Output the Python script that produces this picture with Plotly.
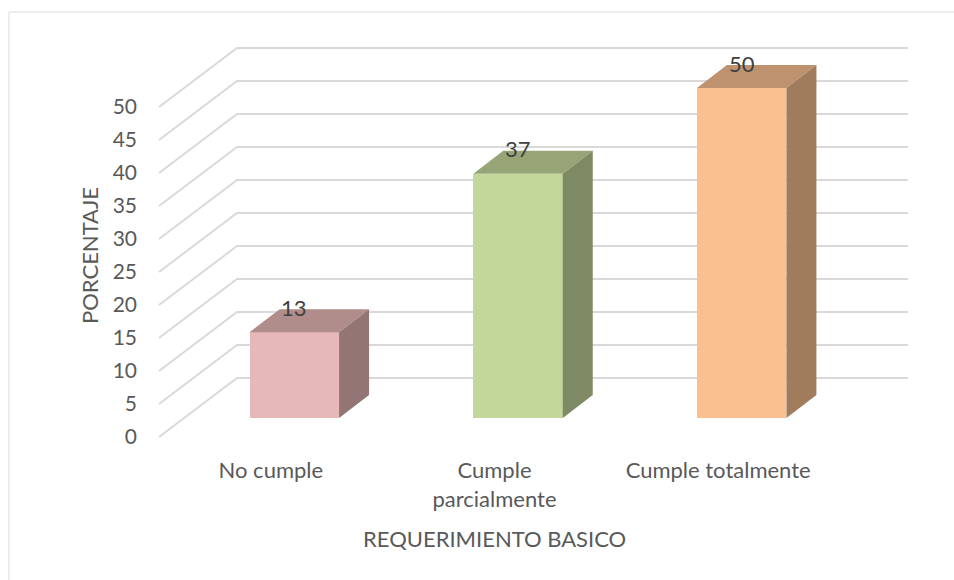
import plotly.graph_objects as go

# --- data -------------------------------------------------------------
categorias = ["No cumple", "Cumple parcialmente", "Cumple totalmente"]
etiquetas_x = ["No cumple", "Cumple<br>parcialmente", "Cumple totalmente"]
porcentajes = [13, 37, 50]
ticks_y = [0, 5, 10, 15, 20, 25, 30, 35, 40, 45, 50]

colores_frente = ["#E6B9B8", "#C4D79B", "#FAC090"]
colores_tapa = ["#B08D8A", "#96A476", "#BF926F"]
colores_lado = ["#937574", "#7E8A63", "#A07B5C"]

# --- geometry of the oblique 3-D projection -----------------------------
W, H = 954, 580
L, R, T, B = 150, 920, 40, 445          # plot area in pixels
ORIGIN_PX = (159, 437)                    # front plane: category -0.5, value 0
PX_X = 223.67                             # pixels per category unit
PX_Y = 6.6                                # pixels per percentage unit

def off(px_dx, px_dy):
    """Pixel depth offset -> data-unit offset (right / up)."""
    return px_dx / PX_X, px_dy / PX_Y

wall_dx, wall_dy = off(78, 59)            # depth of the back wall
front_dx, front_dy = off(23.5, 19)        # front face of the columns
depth_dx, depth_dy = off(30, 23)          # depth of a column
BAR_W = 0.4

x_range = [-0.5 - (ORIGIN_PX[0] - L) / PX_X, -0.5 + (R - ORIGIN_PX[0]) / PX_X]
y_range = [-(B - ORIGIN_PX[1]) / PX_Y, (ORIGIN_PX[1] - T) / PX_Y]

FONT = "Lato"
SIZE = 22
GRIS = "#595959"
GRID = "#D9D9D9"

fig = go.Figure()

# gridlines (side-wall diagonals + back-wall horizontals), kept under the columns
shapes = []
x_end = len(categorias) - 0.5
for t in ticks_y:
    shapes.append(dict(
        type="path", xref="x", yref="y", layer="below",
        path=(f"M {-0.5} {t} L {-0.5 + wall_dx} {t + wall_dy} "
              f"L {x_end + wall_dx} {t + wall_dy}"),
        line=dict(color=GRID, width=2)))

# chart border
shapes.append(dict(type="rect", xref="paper", yref="paper",
                   x0=(9 - L) / (R - L), x1=(W + 10 - L) / (R - L),
                   y0=(B - (H + 10)) / (B - T), y1=(B - 12) / (B - T),
                   line=dict(color=GRID, width=1), fillcolor="rgba(0,0,0,0)",
                   layer="below"))

# column front faces
pos = list(range(len(categorias)))
fig.add_trace(go.Bar(x=[p + front_dx for p in pos], y=porcentajes,
                     base=front_dy, width=BAR_W,
                     marker=dict(color=colores_frente, line=dict(width=0)),
                     hovertext=categorias, hoverinfo="text+y",
                     showlegend=False))

# column top and side faces
for p, v, ct, cl in zip(pos, porcentajes, colores_tapa, colores_lado):
    x0 = p + front_dx - BAR_W / 2
    x1 = p + front_dx + BAR_W / 2
    y0 = front_dy
    y1 = front_dy + v
    fig.add_trace(go.Scatter(
        x=[x0, x1, x1 + depth_dx, x0 + depth_dx, x0],
        y=[y1, y1, y1 + depth_dy, y1 + depth_dy, y1],
        mode="lines", fill="toself", fillcolor=ct,
        line=dict(width=0, color=ct), hoverinfo="skip", showlegend=False))
    fig.add_trace(go.Scatter(
        x=[x1, x1 + depth_dx, x1 + depth_dx, x1, x1],
        y=[y0, y0 + depth_dy, y1 + depth_dy, y1, y0],
        mode="lines", fill="toself", fillcolor=cl,
        line=dict(width=0, color=cl), hoverinfo="skip", showlegend=False))

# value labels above each column
annotations = []
for p, v in zip(pos, porcentajes):
    annotations.append(dict(
        x=p + front_dx, y=front_dy + v + depth_dy, xref="x", yref="y",
        text=str(v), showarrow=False, yanchor="middle", yshift=2,
        font=dict(family=FONT, size=SIZE, color="#404040")))

# axis titles
annotations.append(dict(
    x=(ORIGIN_PX[0] + (x_end + 0.5) * PX_X / 2 - L) / (R - L), y=(B - 538) / (B - T),
    xref="paper", yref="paper", text="REQUERIMIENTO BASICO", showarrow=False,
    xanchor="center", yanchor="middle",
    font=dict(family=FONT, size=SIZE, color=GRIS)))
annotations.append(dict(
    x=(89 - L) / (R - L), y=(B - 256) / (B - T),
    xref="paper", yref="paper", text="PORCENTAJE", showarrow=False,
    textangle=-90, xanchor="center", yanchor="middle",
    font=dict(family=FONT, size=SIZE, color=GRIS)))

fig.update_layout(
    width=W, height=H,
    margin=dict(l=L, r=W - R, t=T, b=H - B),
    paper_bgcolor="white", plot_bgcolor="white",
    annotations=annotations,
    shapes=shapes,
    xaxis=dict(range=x_range, tickvals=pos, ticktext=etiquetas_x,
               showgrid=False, zeroline=False, showline=False,
               ticks="", ticklabelstandoff=10,
               tickfont=dict(family=FONT, size=SIZE, color=GRIS),
               fixedrange=True),
    yaxis=dict(range=y_range, tickvals=ticks_y,
               showgrid=False, zeroline=False, showline=False,
               ticks="", ticklabelstandoff=12,
               tickfont=dict(family=FONT, size=21, color=GRIS),
               fixedrange=True),
    bargap=0,
)

fig.write_html("out.html")
